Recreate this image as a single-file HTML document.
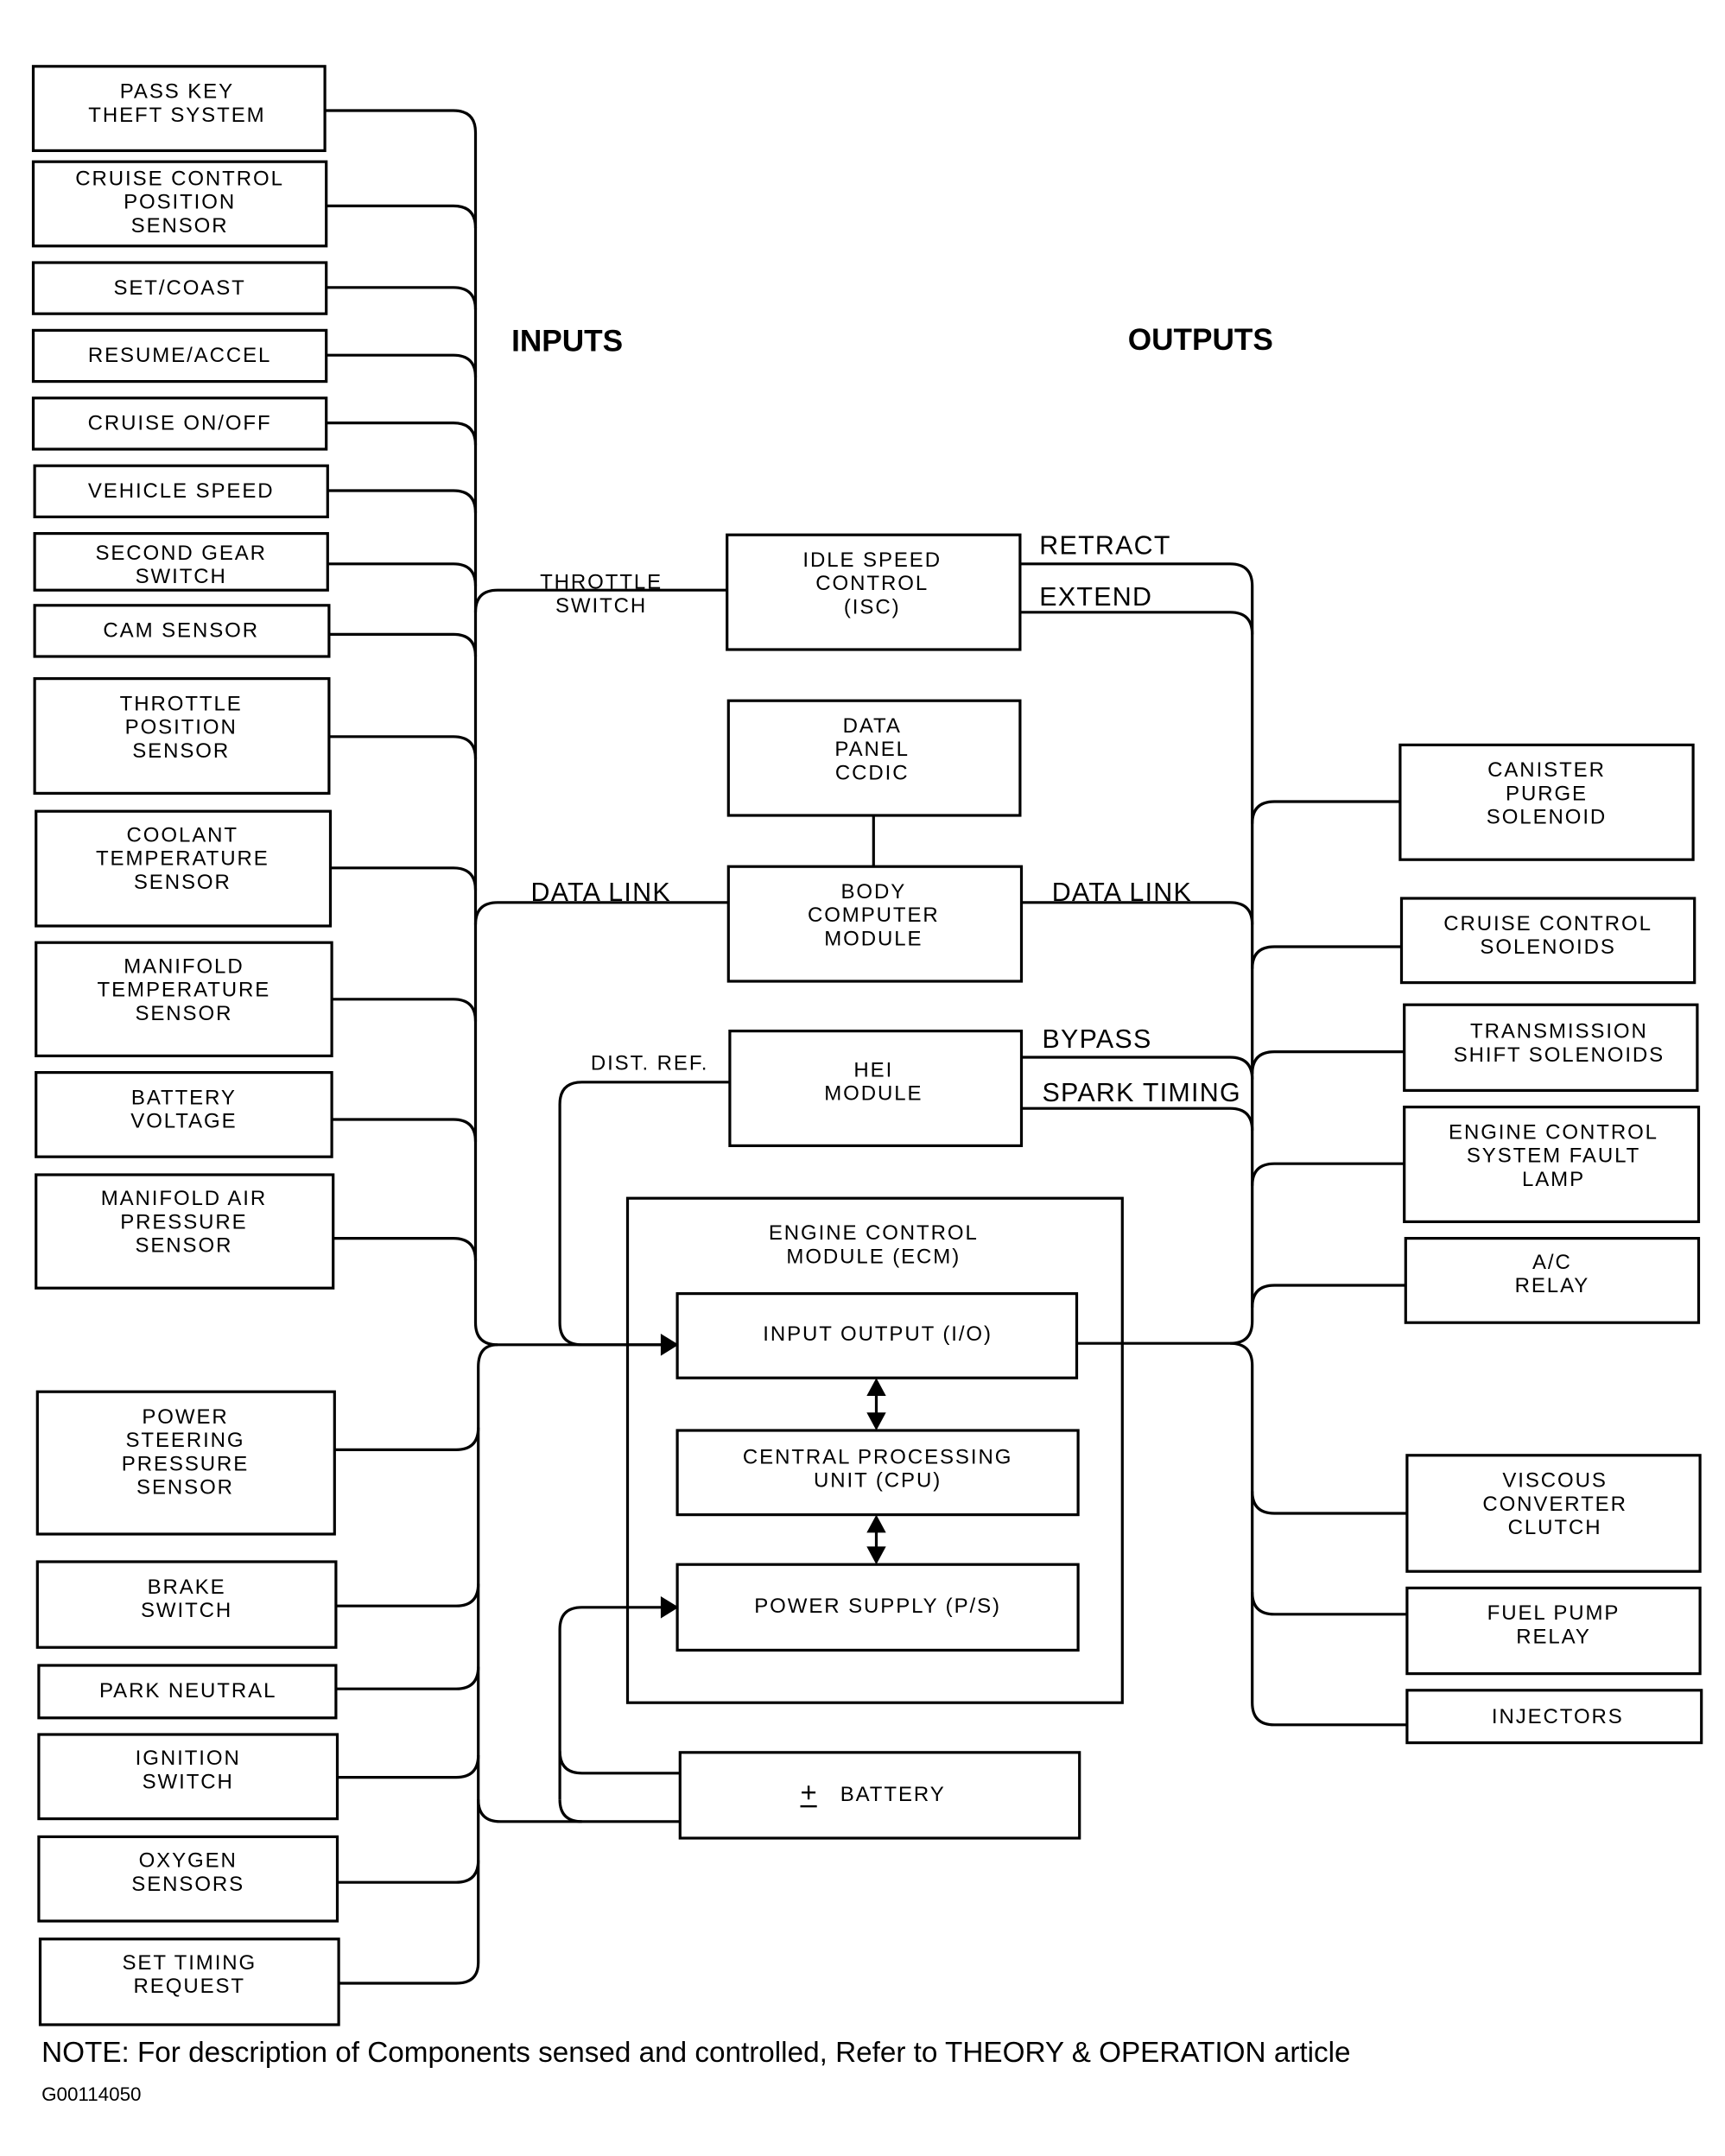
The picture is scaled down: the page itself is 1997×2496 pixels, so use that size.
<!DOCTYPE html>
<html><head><meta charset="utf-8"><style>
html,body{margin:0;padding:0;background:#fff;}
svg{display:block;}
text{font-family:"Liberation Sans",sans-serif;fill:#000;}
.b{font-size:15px;text-anchor:middle;letter-spacing:1.2px;}
.l{font-size:19px;letter-spacing:0.8px;}
</style></head><body>
<svg width="1997" height="2496" viewBox="0 0 1248 1560" xmlns="http://www.w3.org/2000/svg">
<g fill="none" stroke="#000" stroke-width="2">
<rect x="24" y="48" width="211" height="61"/>
<rect x="24" y="117" width="212" height="61"/>
<rect x="24" y="190" width="212" height="37"/>
<rect x="24" y="239" width="212" height="37"/>
<rect x="24" y="288" width="212" height="37"/>
<rect x="25" y="337" width="212" height="37"/>
<rect x="25" y="386" width="212" height="41"/>
<rect x="25" y="438" width="213" height="37"/>
<rect x="25" y="491" width="213" height="83"/>
<rect x="26" y="587" width="213" height="83"/>
<rect x="26" y="682" width="214" height="82"/>
<rect x="26" y="776" width="214" height="61"/>
<rect x="26" y="850" width="215" height="82"/>
<rect x="27" y="1007" width="215" height="103"/>
<rect x="27" y="1130" width="216" height="62"/>
<rect x="28" y="1205" width="215" height="38"/>
<rect x="28" y="1255" width="216" height="61"/>
<rect x="28" y="1329" width="216" height="61"/>
<rect x="29" y="1403" width="216" height="62"/>
<rect x="526" y="387" width="212" height="83"/>
<rect x="527" y="507" width="211" height="83"/>
<rect x="527" y="627" width="212" height="83"/>
<rect x="528" y="746" width="211" height="83"/>
<rect x="454" y="867" width="358" height="365"/>
<rect x="490" y="936" width="289" height="61"/>
<rect x="490" y="1035" width="290" height="61"/>
<rect x="490" y="1132" width="290" height="62"/>
<rect x="492" y="1268" width="289" height="62"/>
<rect x="1013" y="539" width="212" height="83"/>
<rect x="1014" y="650" width="212" height="61"/>
<rect x="1016" y="727" width="212" height="62"/>
<rect x="1016" y="801" width="213" height="83"/>
<rect x="1017" y="896" width="212" height="61"/>
<rect x="1018" y="1053" width="212" height="84"/>
<rect x="1018" y="1149" width="212" height="62"/>
<rect x="1018" y="1223" width="213" height="38"/>
<path d="M235,80 H328 Q344,80 344,96 V957 Q344,973 360,973 H480"/>
<path d="M236,149 H328 Q344,149 344,165"/>
<path d="M236,208 H328 Q344,208 344,224"/>
<path d="M236,257 H328 Q344,257 344,273"/>
<path d="M236,306 H328 Q344,306 344,322"/>
<path d="M237,355 H328 Q344,355 344,371"/>
<path d="M237,408 H328 Q344,408 344,424"/>
<path d="M238,459 H328 Q344,459 344,475"/>
<path d="M238,533 H328 Q344,533 344,549"/>
<path d="M239,628 H328 Q344,628 344,644"/>
<path d="M240,723 H328 Q344,723 344,739"/>
<path d="M240,810 H328 Q344,810 344,826"/>
<path d="M241,896 H328 Q344,896 344,912"/>
<path d="M344,443 Q344,427 360,427 H526"/>
<path d="M344,669 Q344,653 360,653 H527"/>
<path d="M360,973 Q346,973 346,989 V1420 Q346,1435 330,1435 H245"/>
<path d="M242,1049 H330 Q346,1049 346,1033"/>
<path d="M243,1162 H330 Q346,1162 346,1146"/>
<path d="M243,1222 H330 Q346,1222 346,1206"/>
<path d="M244,1286 H330 Q346,1286 346,1270"/>
<path d="M244,1362 H330 Q346,1362 346,1346"/>
<path d="M346,1302 Q346,1318 362,1318 H492"/>
<path d="M528,783 H421 Q405,783 405,799 V957 Q405,973 421,973 H480"/>
<path d="M405,1302 V1179 Q405,1163 421,1163 H480"/>
<path d="M405,1267 Q405,1283 421,1283 H492"/>
<path d="M405,1302 Q405,1318 421,1318"/>
<path d="M632,590 V627"/>
<path d="M634,1005 V1027 M634,1104 V1124"/>
<path d="M738,408 H890 Q906,408 906,424 V956 Q906,972 890,972 H779"/>
<path d="M738,443 H890 Q906,443 906,459"/>
<path d="M739,653 H890 Q906,653 906,669"/>
<path d="M739,765 H890 Q906,765 906,781"/>
<path d="M739,802 H890 Q906,802 906,818"/>
<path d="M906,596 Q906,580 922,580 H1013"/>
<path d="M906,701 Q906,685 922,685 H1014"/>
<path d="M906,777 Q906,761 922,761 H1016"/>
<path d="M906,858 Q906,842 922,842 H1016"/>
<path d="M906,946 Q906,930 922,930 H1017"/>
<path d="M890,972 Q906,972 906,988 V1232 Q906,1248 922,1248 H1018"/>
<path d="M906,1079 Q906,1095 922,1095 H1018"/>
<path d="M906,1152 Q906,1168 922,1168 H1018"/>
<path d="M580,1297 H590 M585,1292 V1302 M579,1307 H591" stroke-width="1.5"/>
</g>
<g fill="#000">
<polygon points="478,965 491,973 478,981"/>
<polygon points="478,1155 491,1163 478,1171"/>
<polygon points="634,997 627,1010 641,1010"/>
<polygon points="634,1035 627,1022 641,1022"/>
<polygon points="634,1096 627,1109 641,1109"/>
<polygon points="634,1132 627,1119 641,1119"/>
</g>
<g class="b">
<text x="128" y="71">PASS KEY</text><text x="128" y="88">THEFT SYSTEM</text>
<text x="130" y="134">CRUISE CONTROL</text><text x="130" y="151">POSITION</text><text x="130" y="168">SENSOR</text>
<text x="130" y="213">SET/COAST</text>
<text x="130" y="262">RESUME/ACCEL</text>
<text x="130" y="311">CRUISE ON/OFF</text>
<text x="131" y="360">VEHICLE SPEED</text>
<text x="131" y="405">SECOND GEAR</text><text x="131" y="422">SWITCH</text>
<text x="131" y="461">CAM SENSOR</text>
<text x="131" y="514">THROTTLE</text><text x="131" y="531">POSITION</text><text x="131" y="548">SENSOR</text>
<text x="132" y="609">COOLANT</text><text x="132" y="626">TEMPERATURE</text><text x="132" y="643">SENSOR</text>
<text x="133" y="704">MANIFOLD</text><text x="133" y="721">TEMPERATURE</text><text x="133" y="738">SENSOR</text>
<text x="133" y="799">BATTERY</text><text x="133" y="816">VOLTAGE</text>
<text x="133" y="872">MANIFOLD AIR</text><text x="133" y="889">PRESSURE</text><text x="133" y="906">SENSOR</text>
<text x="134" y="1030">POWER</text><text x="134" y="1047">STEERING</text><text x="134" y="1064">PRESSURE</text><text x="134" y="1081">SENSOR</text>
<text x="135" y="1153">BRAKE</text><text x="135" y="1170">SWITCH</text>
<text x="136" y="1228">PARK NEUTRAL</text>
<text x="136" y="1277">IGNITION</text><text x="136" y="1294">SWITCH</text>
<text x="136" y="1351">OXYGEN</text><text x="136" y="1368">SENSORS</text>
<text x="137" y="1425">SET TIMING</text><text x="137" y="1442">REQUEST</text>
<text x="631" y="410">IDLE SPEED</text><text x="631" y="427">CONTROL</text><text x="631" y="444">(ISC)</text>
<text x="631" y="530">DATA</text><text x="631" y="547">PANEL</text><text x="631" y="564">CCDIC</text>
<text x="632" y="650">BODY</text><text x="632" y="667">COMPUTER</text><text x="632" y="684">MODULE</text>
<text x="632" y="779">HEI</text><text x="632" y="796">MODULE</text>
<text x="632" y="897">ENGINE CONTROL</text><text x="632" y="914">MODULE (ECM)</text>
<text x="635" y="970">INPUT OUTPUT (I/O)</text>
<text x="635" y="1059">CENTRAL PROCESSING</text><text x="635" y="1076">UNIT (CPU)</text>
<text x="635" y="1167">POWER SUPPLY (P/S)</text>
<text x="646" y="1303">BATTERY</text>
<text x="1119" y="562">CANISTER</text><text x="1119" y="579">PURGE</text><text x="1119" y="596">SOLENOID</text>
<text x="1120" y="673">CRUISE CONTROL</text><text x="1120" y="690">SOLENOIDS</text>
<text x="1128" y="751">TRANSMISSION</text><text x="1128" y="768">SHIFT SOLENOIDS</text>
<text x="1124" y="824">ENGINE CONTROL</text><text x="1124" y="841">SYSTEM FAULT</text><text x="1124" y="858">LAMP</text>
<text x="1123" y="918">A/C</text><text x="1123" y="935">RELAY</text>
<text x="1125" y="1076">VISCOUS</text><text x="1125" y="1093">CONVERTER</text><text x="1125" y="1110">CLUTCH</text>
<text x="1124" y="1172">FUEL PUMP</text><text x="1124" y="1189">RELAY</text>
<text x="1127" y="1247">INJECTORS</text>
<text x="435" y="426">THROTTLE</text><text x="435" y="443">SWITCH</text>
<text x="470" y="774">DIST. REF.</text>
</g>
<text x="370" y="254" style="font-size:22px;font-weight:bold">INPUTS</text>
<text x="816" y="253" style="font-size:22px;font-weight:bold">OUTPUTS</text>
<text x="752" y="401" class="l">RETRACT</text>
<text x="752" y="438" class="l">EXTEND</text>
<text x="384" y="652" class="l">DATA LINK</text>
<text x="761" y="652" class="l">DATA LINK</text>
<text x="754" y="758" class="l">BYPASS</text>
<text x="754" y="797" class="l">SPARK TIMING</text>
<text x="30" y="1492" style="font-size:20.8px">NOTE: For description of Components sensed and controlled, Refer to THEORY &amp; OPERATION article</text>
<text x="30" y="1520" style="font-size:14px">G00114050</text>
</svg>
</body></html>
